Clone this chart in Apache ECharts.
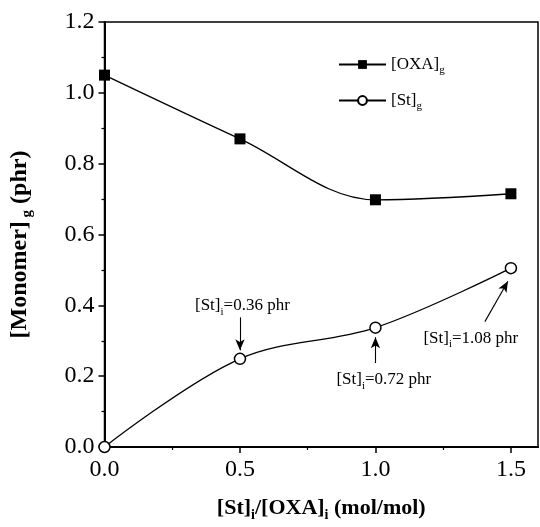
<!DOCTYPE html>
<html><head><meta charset="utf-8">
<script src="https://cdn.jsdelivr.net/npm/echarts@6/dist/echarts.min.js"></script>
<style>html,body{margin:0;padding:0;background:#fff}#c{width:540px;height:527px}</style>
</head><body><div id="c"></div>
<script>
// ---- data ----
const ratio = [0, 0.5, 1.0, 1.5];
const oxaG = [1.05, 0.87, 0.698, 0.715];
const stG = [0, 0.249, 0.337, 0.505];
const xTicks = [0, 0.5, 1.0, 1.5];
const xMinorTicks = [0.25, 0.75, 1.25];
const noteValues = ['0.36 phr', '0.72 phr', '1.08 phr'];
const noteTextAt = [[0.509, 0.399], [1.031, 0.19], [1.352, 0.307]];
const arrowFrom = [[0.5, 0.366], [1.0, 0.237], [1.404, 0.354]];
const arrowTo = [[0.5, 0.273], [1.0, 0.31], [1.489, 0.468]];
const seriesNames = ['[OXA]g', '[St]g'];

const FF = 'Liberation Serif';
const subRich = {
  a: { fontFamily: FF, fontSize: 17, color: '#000' },
  s: { fontFamily: FF, fontSize: 11, color: '#000', padding: [12, 0, 0, 0] }
};
const titleRich = {
  a: { fontFamily: FF, fontSize: 22, fontWeight: 'bold', color: '#000' },
  s: { fontFamily: FF, fontSize: 14, fontWeight: 'bold', color: '#000', padding: [14, 0, 0, 0] }
};
const ytitleRich = {
  a: { fontFamily: FF, fontSize: 24, fontWeight: 'bold', color: '#000' },
  s: { fontFamily: FF, fontSize: 15, fontWeight: 'bold', color: '#000', padding: [14, 0, 0, 0] }
};

const chart = echarts.init(document.getElementById('c'), null, { renderer: 'canvas' });
const option = {
  animation: false,
  backgroundColor: '#fff',
  grid: { left: 104, right: 2, top: 22, bottom: 73, show: true, borderColor: '#000', borderWidth: 1.5, backgroundColor: 'transparent' },
  legend: {
    data: seriesNames,
    orient: 'vertical',
    left: 333, top: 51,
    itemWidth: 47, itemHeight: 11, itemGap: 16,
    formatter: function (n) { return n === seriesNames[0] ? '{a|[OXA]}{s|g}' : '{a|[St]}{s|g}'; },
    textStyle: { rich: subRich }
  },
  xAxis: [{
    type: 'value', min: 0, max: 1.6, interval: 0.5,
    axisLine: { lineStyle: { color: '#000', width: 2 } },
    axisTick: { customValues: xTicks, length: 6, lineStyle: { color: '#000', width: 1.5 } },
    axisLabel: { customValues: xTicks, formatter: v => Number(v).toFixed(1), fontFamily: FF, fontSize: 24, color: '#000', margin: 11 },
    splitLine: { show: false },
    name: '{a|[St]}{s|i}{a|/[OXA]}{s|i}{a| (mol/mol)}',
    nameLocation: 'middle', nameGap: 47,
    nameTextStyle: { rich: titleRich }
  }, {
    type: 'value', min: 0, max: 1.6, position: 'bottom',
    axisLine: { show: false },
    axisTick: { customValues: xMinorTicks, length: 3, lineStyle: { color: '#000', width: 1.2 } },
    axisLabel: { show: false },
    splitLine: { show: false }
  }],
  yAxis: {
    type: 'value', min: 0, max: 1.2, interval: 0.2,
    axisLine: { show: true, lineStyle: { color: '#000', width: 2 } },
    axisTick: { show: true, length: 6, lineStyle: { color: '#000', width: 1.5 } },
    minorTick: { show: true, splitNumber: 2, length: 3, lineStyle: { color: '#000', width: 1.2 } },
    axisLabel: { formatter: v => Number(v).toFixed(1), fontFamily: FF, fontSize: 24, color: '#000', margin: 10 },
    splitLine: { show: false },
    name: '{a|[Monomer]}{s| g}{a| (phr)}',
    nameLocation: 'middle', nameGap: 70, nameRotate: 90,
    nameTextStyle: { rich: ytitleRich, padding: [0, 20, 0, 0] }
  },
  series: [{
    name: seriesNames[0], type: 'line', smooth: 0.35, clip: false,
    data: ratio.map((x, i) => [x, oxaG[i]]),
    symbol: 'rect', symbolSize: 11,
    itemStyle: { color: '#000' },
    lineStyle: { color: '#000', width: 1.3 }
  }, {
    name: seriesNames[1], type: 'line', smooth: 0.35, clip: false,
    data: ratio.map((x, i) => [x, stG[i]]),
    symbol: 'circle', symbolSize: 11,
    itemStyle: { color: '#fff', borderColor: '#000', borderWidth: 1.5 },
    lineStyle: { color: '#000', width: 1.3 },
    markPoint: {
      silent: true,
      data: noteValues.map((t, i) => ({
        coord: noteTextAt[i], symbol: 'circle', symbolSize: 1,
        itemStyle: { color: 'rgba(0,0,0,0)' },
        label: { show: true, position: 'inside', formatter: '{a|[St]}{s|i}{a|=' + t + '}', rich: subRich }
      }))
    },
    markLine: {
      silent: true,
      symbolSize: [7, 11],
      lineStyle: { color: '#000', width: 1.1, type: 'solid' },
      label: { show: false },
      data: arrowFrom.map((p, i) => [
        { coord: p, symbol: 'none' },
        { coord: arrowTo[i], symbol: 'arrow' }
      ])
    }
  }]
};
chart.setOption(option);
</script>
</body></html>
